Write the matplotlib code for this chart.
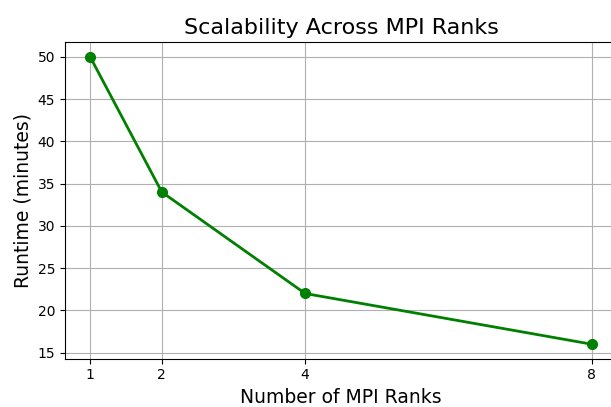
import matplotlib
matplotlib.use('Agg')
import matplotlib.pyplot as plt

ranks = [1, 2, 4, 8]
runtime = [50, 34, 22, 16]

fig = plt.figure(figsize=(6.11, 4.07), dpi=100)
ax = fig.add_axes([0.1064, 0.1189, 0.9034, 0.777])
ax.plot(ranks, runtime, marker='o', color='green', linewidth=2, markersize=7)
ax.set_title('Scalability Across MPI Ranks', fontsize=16)
ax.set_xlabel('Number of MPI Ranks', fontsize=13.5)
ax.set_ylabel('Runtime (minutes)', fontsize=13.5)
ax.set_xticks(ranks)
ax.grid(True)
fig.savefig('out.png', dpi=100)
